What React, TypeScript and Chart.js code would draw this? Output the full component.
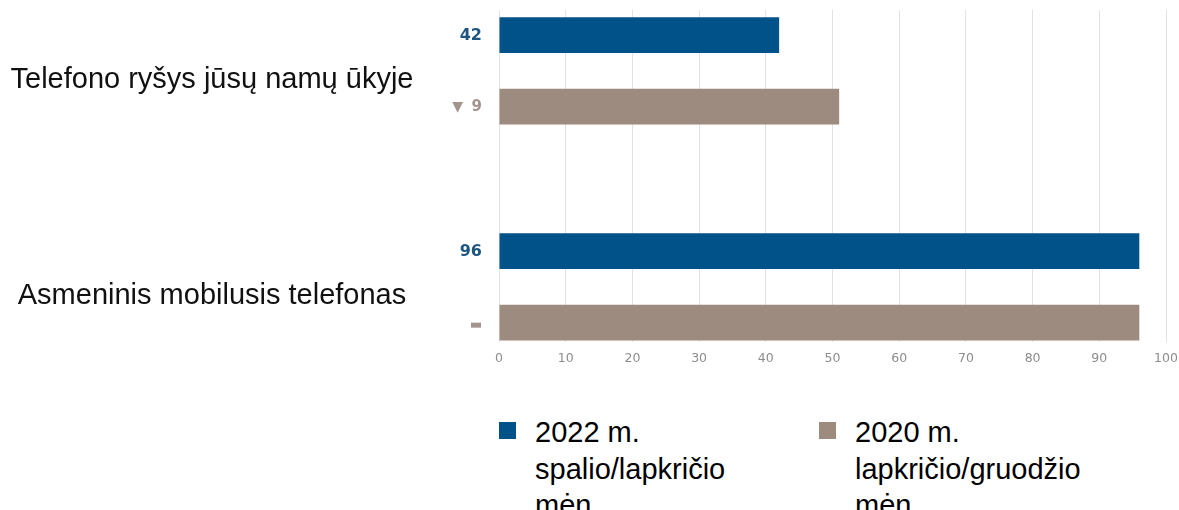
import React, { useEffect, useRef } from 'react';
import { Chart, registerables } from 'chart.js';

Chart.register(...registerables);

const categories = ['Telefono ryšys jūsų namų ūkyje', 'Asmeninis mobilusis telefonas'];
const seriesNames = ['2022 m. spalio/lapkričio mėn.', '2020 m. lapkričio/gruodžio mėn.'];
const values2022 = [42, 96];
const values2020 = [51, 96];
const xTickValues = [0, 10, 20, 30, 40, 50, 60, 70, 80, 90, 100];
const seriesColors = ['#02528a', '#9e8b7f'];

const sideLabels = {
  id: 'sideLabels',
  afterDatasetsDraw(chart: any) {
    const ctx = chart.ctx;
    const yScale = chart.scales.y;
    const area = chart.chartArea;
    ctx.save();
    ctx.font = '29px "Liberation Sans", Arial, sans-serif';
    ctx.fillStyle = '#111111';
    ctx.textAlign = 'center';
    ctx.textBaseline = 'alphabetic';
    categories.forEach((c, i) => {
      const py = yScale.getPixelForValue(i);
      ctx.fillText(c, 212, py + 17);
    });
    const m0 = chart.getDatasetMeta(0);
    ctx.font = 'bold 16px "DejaVu Sans", Verdana, sans-serif';
    ctx.fillStyle = '#1f5583';
    ctx.textAlign = 'right';
    ctx.textBaseline = 'middle';
    m0.data.forEach((bar: any, i: number) => {
      ctx.fillText(String(values2022[i]), area.left - 17, bar.y + 1);
    });
    const m1 = chart.getDatasetMeta(1);
    m1.data.forEach((bar: any, i: number) => {
      const diff = values2022[i] - values2020[i];
      ctx.fillStyle = '#a3958d';
      if (diff === 0) {
        ctx.fillRect(area.left - 28, bar.y, 10, 5);
      } else {
        ctx.font = 'bold 15px "DejaVu Sans", Verdana, sans-serif';
        ctx.textAlign = 'right';
        ctx.fillText(String(Math.abs(diff)), area.left - 17, bar.y);
        ctx.font = '14px "DejaVu Sans", Verdana, sans-serif';
        ctx.fillText(diff < 0 ? '▼' : '▲', area.left - 36, bar.y + 1);
      }
    });
    ctx.restore();
  },
};

export default function App() {
  const canvasRef = useRef<HTMLCanvasElement | null>(null);

  useEffect(() => {
    if (!canvasRef.current) return;
    const chart = new Chart(canvasRef.current, {
      type: 'bar',
      data: {
        datasets: [
          {
            label: seriesNames[0],
            data: values2022.map((v, i) => ({ x: v, y: i })),
            backgroundColor: seriesColors[0],
            categoryPercentage: 0.662,
            barPercentage: 0.5,
          },
          {
            label: seriesNames[1],
            data: values2020.map((v, i) => ({ x: v, y: i })),
            backgroundColor: seriesColors[1],
            categoryPercentage: 0.662,
            barPercentage: 0.5,
          },
        ],
      },
      options: {
        indexAxis: 'y',
        animation: false,
        responsive: true,
        maintainAspectRatio: false,
        layout: { padding: { left: 499, right: 13, top: 10, bottom: 0 } },
        plugins: {
          legend: { display: false },
          tooltip: { enabled: false },
        },
        scales: {
          y: {
            type: 'linear',
            display: false,
            reverse: true,
            offset: false,
            bounds: 'data',
            min: -0.282,
            max: 1.255,
            afterBuildTicks: (scale: any) => {
              scale.ticks = categories.map((_, i) => ({ value: i }));
            },
          },
          x: {
            type: 'linear',
            min: 0,
            max: 100,
            afterBuildTicks: (scale: any) => {
              scale.ticks = xTickValues.map((v) => ({ value: v }));
            },
            afterFit: (scale: any) => {
              scale.paddingLeft = 0;
              scale.paddingRight = 0;
              scale.height = 38;
            },
            grid: { color: '#e2e2e2', drawTicks: false },
            border: { display: false },
            ticks: {
              padding: 9,
              color: '#8c8c8c',
              font: { family: '"DejaVu Sans", Verdana, sans-serif', size: 12.5 },
            },
          },
        },
      },
      plugins: [sideLabels],
    });
    return () => chart.destroy();
  }, []);

  const legendText: React.CSSProperties = {
    position: 'absolute',
    top: 414,
    width: 240,
    font: '29px "Liberation Sans", Arial, sans-serif',
    lineHeight: '36.5px',
    color: '#000',
  };

  return (
    <div style={{ position: 'absolute', left: 0, top: 0, width: 1179, height: 510, background: '#fff', overflow: 'hidden' }}>
      <div style={{ position: 'absolute', left: 0, top: 0, width: 1179, height: 380 }}>
        <canvas ref={canvasRef} />
      </div>
      <div style={{ position: 'absolute', left: 499, top: 422, width: 17, height: 17, background: seriesColors[0] }} />
      <div style={{ ...legendText, left: 535 }}>{seriesNames[0]}</div>
      <div style={{ position: 'absolute', left: 819, top: 422, width: 17, height: 17, background: seriesColors[1] }} />
      <div style={{ ...legendText, left: 855 }}>{seriesNames[1]}</div>
    </div>
  );
}
